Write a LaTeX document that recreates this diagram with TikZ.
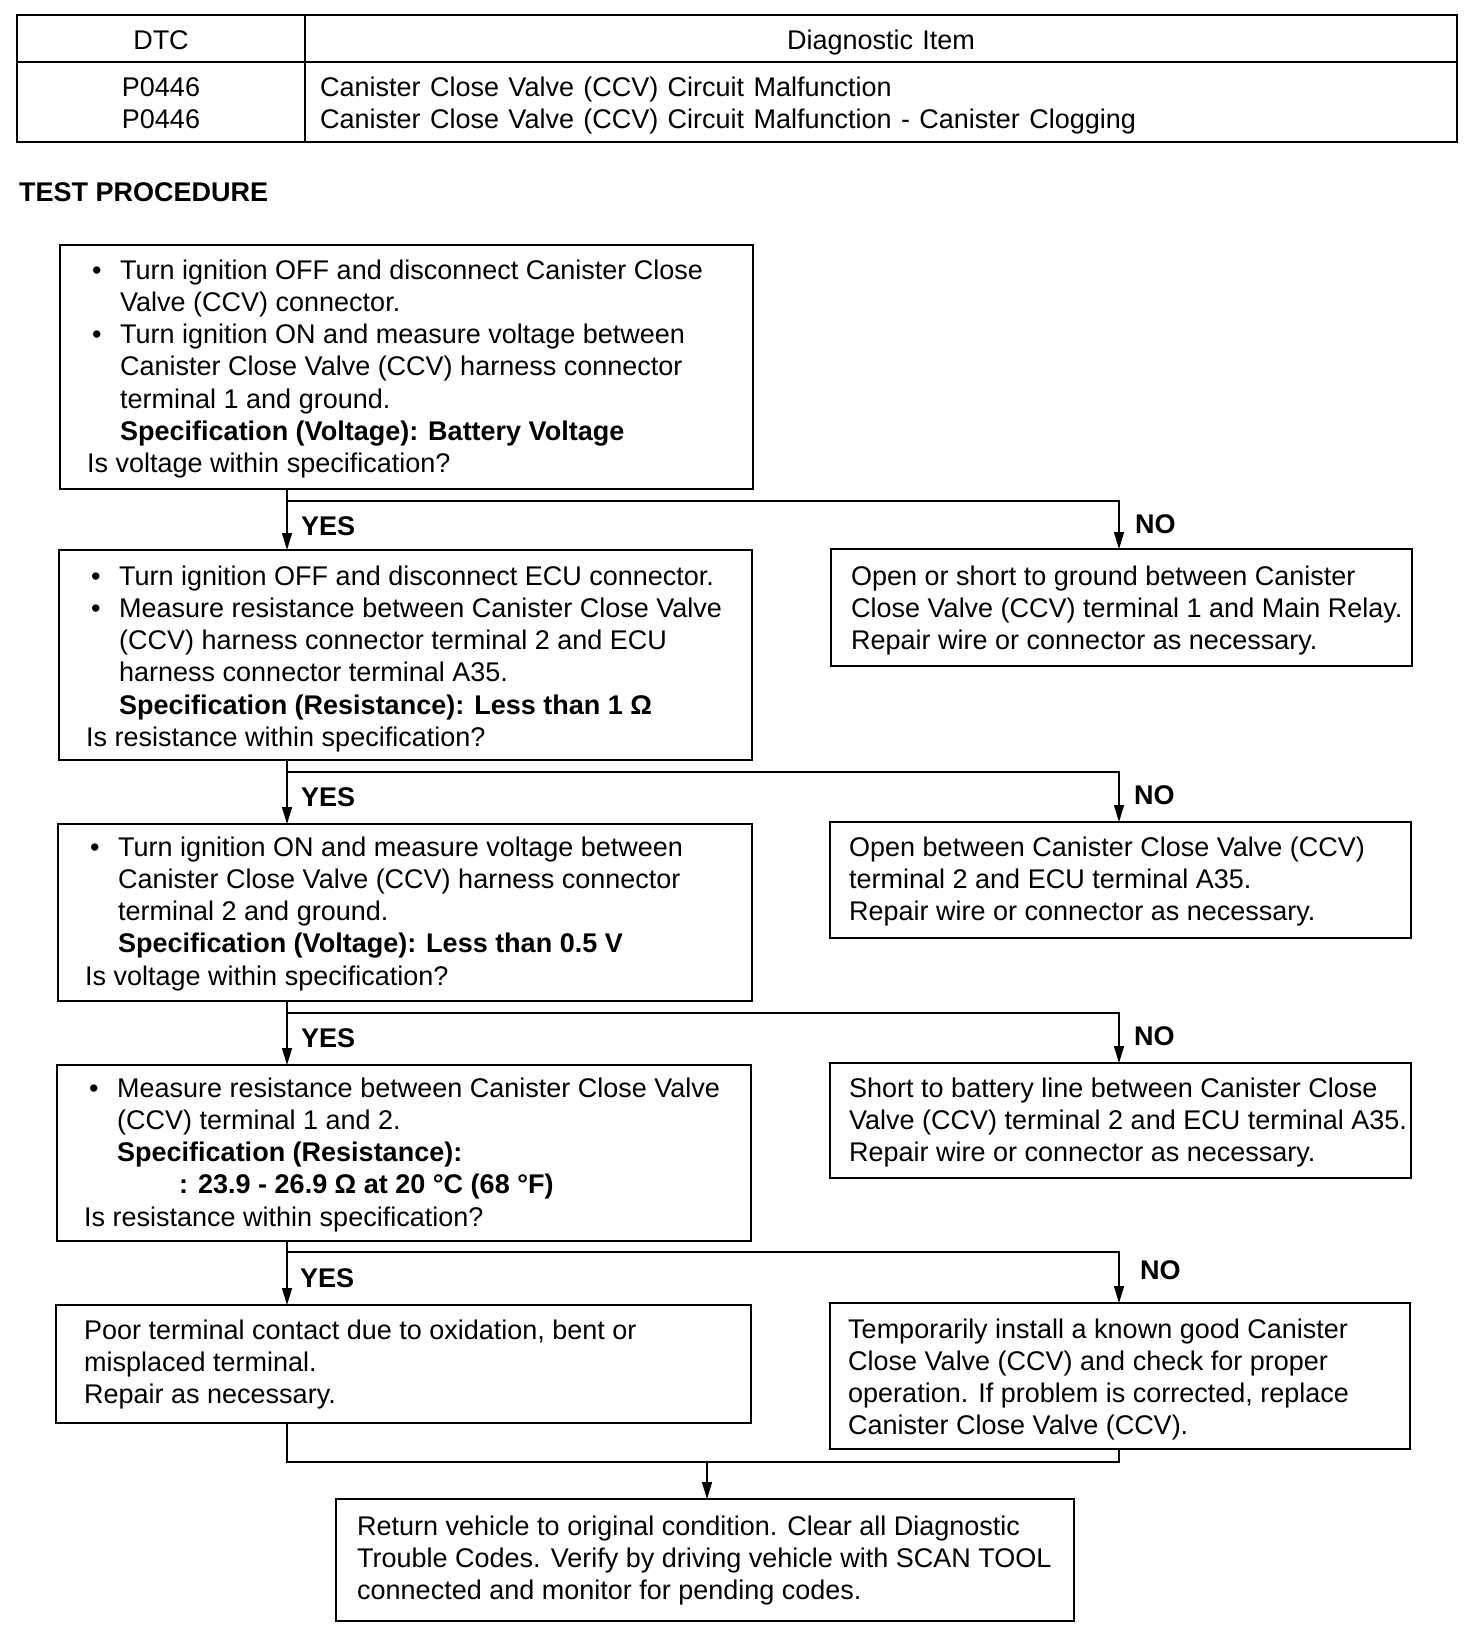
\documentclass[tikz,border=0pt]{standalone}
\usepackage{fontspec}
\setmainfont{Liberation Sans}
\newfontfamily\widefont[WordSpace=1.25]{Liberation Sans}
\usetikzlibrary{arrows.meta}
\newcommand\bul{\hspace*{5pt}\makebox[28pt][l]{\textbullet}}
\newcommand\ind{\hspace*{33pt}}
\begin{document}
\begin{tikzpicture}[x=1pt,y=-1pt,
  box/.style={draw, rectangle, line width=1.5pt, inner sep=0pt, outer sep=0pt, anchor=north west},
  txt/.style={anchor=base west, inner sep=0pt, align=left, font=\fontsize{27}{32.3}\selectfont},
  wtxt/.style={txt, font=\widefont\fontsize{27}{32.3}\selectfont},
  ctxt/.style={anchor=base, inner sep=0pt, font=\widefont\fontsize{27}{32.3}\selectfont},
  lbl/.style={anchor=base west, inner sep=0pt, font=\fontsize{27}{32.3}\selectfont\bfseries},
  ln/.style={line width=1.5pt},
  arr/.style={line width=1.5pt, -{Triangle[length=17pt,width=10pt]}}]
\fill[white] (0,0) rectangle (1472,1632);
\useasboundingbox (0,0) rectangle (1472,1632);

% table
\node[box, minimum width=1440pt, minimum height=127pt] (tab) at (17,15) {};
\coordinate (hl) at (17,62);
\coordinate (dv) at (305,15);
\draw[ln] (hl) -- (hl -| tab.east);
\draw[ln] (dv) -- (dv |- tab.south);
\node[ctxt] (dtc) at (161,50) {DTC};
\node[ctxt] (dgi) at (881,50) {Diagnostic Item};
\node[ctxt] (c1) at (161,97) {P0446};
\node[ctxt] (c2) at (161,129) {P0446};
\node[wtxt] (d1) at (320,97) {Canister Close Valve (CCV) Circuit Malfunction};
\node[wtxt] (d2) at (320,129) {Canister Close Valve (CCV) Circuit Malfunction - Canister Clogging};

\node[lbl] (tp) at (19,201) {TEST PROCEDURE};

% boxes
\node[box, minimum width=693pt, minimum height=244pt] (b1) at (60,245) {};
\node[box, minimum width=693pt, minimum height=210pt] (b2) at (59,550) {};
\node[box, minimum width=581pt, minimum height=117pt] (n1) at (831,549) {};
\node[box, minimum width=694pt, minimum height=177pt] (b3) at (58,824) {};
\node[box, minimum width=581pt, minimum height=116pt] (n2) at (830,822) {};
\node[box, minimum width=694pt, minimum height=176pt] (b4) at (57,1065) {};
\node[box, minimum width=581pt, minimum height=115pt] (n3) at (830,1063) {};
\node[box, minimum width=695pt, minimum height=118pt] (b5) at (56,1305) {};
\node[box, minimum width=580pt, minimum height=146pt] (n4) at (830,1303) {};
\node[box, minimum width=738pt, minimum height=122pt] (fin) at (336,1499) {};

% texts (anchored at the baseline of the last line)
\node[txt] (b1t) at (87,472.8) {\bul Turn ignition OFF and disconnect Canister Close\\
\ind Valve (CCV) connector.\\
\bul Turn ignition ON and measure voltage between\\
\ind Canister Close Valve (CCV) harness connector\\
\ind terminal 1 and ground.\\
\ind\textbf{Specification (Voltage): Battery Voltage}\\
Is voltage within specification?};

\node[txt] (b2t) at (86,746.5) {\bul Turn ignition OFF and disconnect ECU connector.\\
\bul Measure resistance between Canister Close Valve\\
\ind (CCV) harness connector terminal 2 and ECU\\
\ind harness connector terminal A35.\\
\ind\textbf{Specification (Resistance): Less than 1 Ω}\\
Is resistance within specification?};

\node[txt] (n1t) at (851,649.6) {Open or short to ground between Canister\\
Close Valve (CCV) terminal 1 and Main Relay.\\
Repair wire or connector as necessary.};

\node[txt] (b3t) at (85,985.2) {\bul Turn ignition ON and measure voltage between\\
\ind Canister Close Valve (CCV) harness connector\\
\ind terminal 2 and ground.\\
\ind\textbf{Specification (Voltage): Less than 0.5 V}\\
Is voltage within specification?};

\node[txt] (n2t) at (849,920.6) {Open between Canister Close Valve (CCV)\\
terminal 2 and ECU terminal A35.\\
Repair wire or connector as necessary.};

\node[txt] (b4t) at (84,1226.2) {\bul Measure resistance between Canister Close Valve\\
\ind (CCV) terminal 1 and 2.\\
\ind\textbf{Specification (Resistance):}\\
\hspace*{95pt}\textbf{: 23.9 - 26.9 Ω at 20 °C (68 °F)}\\
Is resistance within specification?};

\node[txt] (n3t) at (849,1161.6) {Short to battery line between Canister Close\\
Valve (CCV) terminal 2 and ECU terminal A35.\\
Repair wire or connector as necessary.};

\node[txt] (b5t) at (84,1403.6) {Poor terminal contact due to oxidation, bent or\\
misplaced terminal.\\
Repair as necessary.};

\node[txt] (n4t) at (848,1434.9) {Temporarily install a known good Canister\\
Close Valve (CCV) and check for proper\\
operation. If problem is corrected, replace\\
Canister Close Valve (CCV).};

\node[txt] (fint) at (357,1599.6) {Return vehicle to original condition. Clear all Diagnostic\\
Trouble Codes. Verify by driving vehicle with SCAN TOOL\\
connected and monitor for pending codes.};

% connectors
\coordinate (L) at (287,0);
\coordinate (R) at (1119,0);
\coordinate (h1) at (287,501);
\coordinate (h2) at (287,772);
\coordinate (h3) at (287,1013);
\coordinate (h4) at (287,1252);
\coordinate (m) at (707,1462);

\draw[arr] (b1.south -| L) -- (b2.north -| L);
\draw[arr] (h1) -| (n1.north -| R);
\draw[arr] (b2.south -| L) -- (b3.north -| L);
\draw[arr] (h2) -| (n2.north -| R);
\draw[arr] (b3.south -| L) -- (b4.north -| L);
\draw[arr] (h3) -| (n3.north -| R);
\draw[arr] (b4.south -| L) -- (b5.north -| L);
\draw[arr] (h4) -| (n4.north -| R);
\draw[ln] (b5.south -| L) |- (m) -| (n4.south -| R);
\draw[arr] (m) -- (fin.north -| m);

% labels
\node[lbl] (y1) at (301,535) {YES};
\node[lbl] (y2) at (301,806) {YES};
\node[lbl] (y3) at (301,1047) {YES};
\node[lbl] (y4) at (300,1287) {YES};
\node[lbl] (no1) at (1135,533) {NO};
\node[lbl] (no2) at (1134,804) {NO};
\node[lbl] (no3) at (1134,1045) {NO};
\node[lbl] (no4) at (1140,1279) {NO};
\end{tikzpicture}
\end{document}
